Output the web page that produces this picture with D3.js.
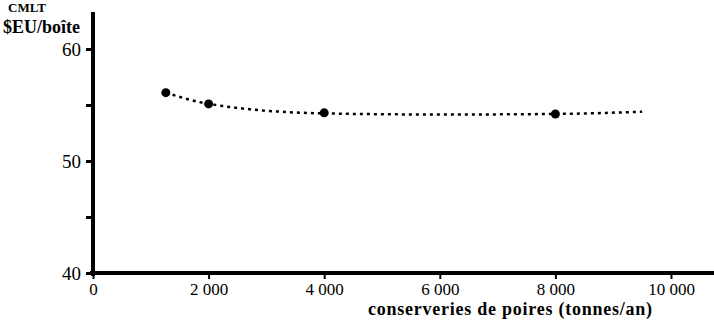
<!DOCTYPE html>
<html>
<head>
<meta charset="utf-8">
<script src="https://cdn.jsdelivr.net/npm/d3@7"></script>
<style>
  body { margin: 0; background: #fff; }
  text { font-family: "Liberation Serif", "DejaVu Serif", serif; fill: #000; }
</style>
</head>
<body>
<div id="chart"></div>
<script>
// observed plants
var plantSize = [1260, 2000, 4000, 8000];
var plantCost = [56.1, 55.1, 54.3, 54.2];
// fitted long-run cost curve
var curveSize = [1260, 2000, 4000, 6000, 8000, 9500];
var curveCost = [56.1, 55.1, 54.25, 54.15, 54.2, 54.4];

var xTicks = [0, 2000, 4000, 6000, 8000, 10000];
var yTicks = [40, 45, 50, 55, 60];
var yLabels = {40: "40", 50: "50", 60: "60"};

var width = 714, height = 326;
var margin = {top: 12, right: 0, bottom: 53, left: 93};

var svg = d3.select("#chart")
    .append("svg")
    .attr("width", width)
    .attr("height", height);

var x = d3.scaleLinear()
    .domain([0, 10000])
    .range([margin.left, 671]);

var y = d3.scaleLinear()
    .domain([40, 60])
    .range([273, 49]);

var fmt = function(d) { return d === 0 ? "0" : d3.format(",")(d).replace(",", " "); };

// X axis
var xAxis = svg.append("g")
    .attr("transform", "translate(0,273)")
    .call(d3.axisBottom(x).tickValues(xTicks).tickSize(6).tickFormat(fmt));
xAxis.select(".domain").remove();
xAxis.append("line")
    .attr("x1", margin.left - 3).attr("x2", width)
    .attr("stroke", "#000").attr("stroke-width", 4);
xAxis.selectAll(".tick line").attr("stroke", "#000").attr("stroke-width", 2);
xAxis.selectAll(".tick text")
    .attr("y", 10)
    .style("font-size", "17px")
    .style("fill", "#000");

// Y axis
var yAxis = svg.append("g")
    .attr("transform", "translate(" + margin.left + ",0)")
    .call(d3.axisLeft(y).tickValues(yTicks).tickSize(7)
        .tickFormat(function(d) { return yLabels[d] || ""; }));
yAxis.select(".domain").remove();
yAxis.append("line")
    .attr("y1", margin.top).attr("y2", 276)
    .attr("stroke", "#000").attr("stroke-width", 4);
yAxis.selectAll(".tick line").attr("stroke", "#000").attr("stroke-width", 3);
yAxis.selectAll(".tick text")
    .attr("x", -12)
    .attr("dy", "0.32em")
    .style("font-size", "19px")
    .style("fill", "#000");

// axis titles
svg.append("text")
    .attr("x", 8).attr("y", 12)
    .style("font-size", "13px")
    .style("font-weight", "bold")
    .text("CMLT");
svg.append("text")
    .attr("x", 3).attr("y", 33)
    .style("font-size", "18px")
    .style("font-weight", "bold")
    .text("$EU/boîte");
svg.append("text")
    .attr("x", 510).attr("y", 315)
    .attr("text-anchor", "middle")
    .style("font-size", "18px")
    .style("font-weight", "bold")
    .attr("textLength", 284)
    .text("conserveries de poires (tonnes/an)");

// dotted cost curve
var line = d3.line()
    .x(function(d, i) { return x(curveSize[i]); })
    .y(function(d, i) { return y(curveCost[i]); })
    .curve(d3.curveMonotoneX);
svg.append("path")
    .datum(curveSize)
    .attr("d", line)
    .attr("fill", "none")
    .attr("stroke", "#000")
    .attr("stroke-width", 2.5)
    .attr("stroke-dasharray", "3,4");

// plants
svg.append("g")
    .selectAll("circle")
    .data(plantSize)
    .enter()
    .append("circle")
    .attr("cx", function(d) { return x(d); })
    .attr("cy", function(d, i) { return y(plantCost[i]); })
    .attr("r", 4.5)
    .attr("fill", "#000");
</script>
</body>
</html>
